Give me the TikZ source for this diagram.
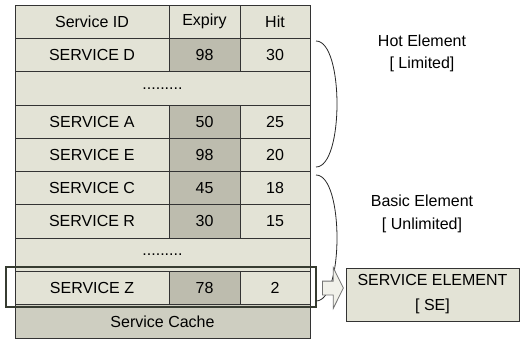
\documentclass[tikz,border=0pt]{standalone}
\usepackage{fontspec}
\setmainfont{Liberation Sans}
\usetikzlibrary{shapes.arrows, positioning}
\definecolor{CellLight}{RGB}{227,227,214}
\definecolor{CellDark}{RGB}{189,188,174}
\definecolor{CellCache}{RGB}{206,206,193}
\definecolor{FrameDark}{RGB}{55,60,49}

\begin{document}
\begin{tikzpicture}[x=1pt, y=-1pt,
    cell/.style={shape=rectangle, draw=black!80, line width=0.8pt, fill=CellLight, minimum height=33.3pt, inner sep=0pt, font=\fontsize{16}{19}\selectfont},
    idcell/.style={cell, minimum width=154pt},
    expcell/.style={cell, fill=CellDark, minimum width=71pt},
    hitcell/.style={cell, minimum width=70pt},
    widecell/.style={cell, minimum width=295pt},
    note/.style={align=center, font=\fontsize{16}{22.5}\selectfont}]
    \useasboundingbox (0,0) rectangle (521,340);

    % table head
    \node[idcell]                   (hid)  at (92,    21.65) {Service ID};
    \node[cell, minimum width=71pt] (hexp) at (204.5, 21.65) {Expiry};
    \node[hitcell]                  (hhit) at (275,   21.65) {Hit};

    % cached services
    \foreach \sid/\row/\expiry/\hits in {D/1/98/30, A/3/50/25, E/4/98/20, C/5/45/18, R/6/30/15, Z/8/78/2} {
        \node[idcell]  (id\sid)  at (92,    21.65+33.3*\row) {SERVICE \sid};
        \node[expcell] (exp\sid) at (204.5, 21.65+33.3*\row) {\expiry};
        \node[hitcell] (hit\sid) at (275,   21.65+33.3*\row) {\hits};
    }
    \node[widecell] (gapA) at (162.5, 88.25)  {.........};
    \node[widecell] (gapB) at (162.5, 254.75) {.........};
    \node[widecell, fill=CellCache] (cache) at (162.5, 321.35) {Service Cache};

    % selected entry
    \node[draw=FrameDark, line width=2pt, minimum width=310pt, minimum height=40pt, inner sep=0pt] (sel) at (161,287) {};

    % braces
    \coordinate (hotTop) at (316,41);
    \coordinate (hotBot) at (316,167);
    \coordinate (basTop) at (316,175);
    \coordinate (basBot) at (316,301);
    \draw[black!85, line width=0.8pt] (hotTop) .. controls (344,41) and (344,167) .. (hotBot);
    \draw[black!85, line width=0.8pt] (basTop) .. controls (344,175) and (344,301) .. (basBot);

    \node[note] (hot)   at (422, 53.5) {Hot Element\\{[} Limited]};
    \node[note] (basic) at (422, 214)  {Basic Element\\{[} Unlimited]};

    % service element
    \node[cell, minimum width=173pt, minimum height=53pt, align=center, font=\fontsize{16}{25}\selectfont] (se) at (432.5,294.5) {SERVICE ELEMENT\\{[} SE]};
    \node[single arrow, draw=black!55, line width=0.8pt, fill=CellLight!50, inner sep=6.5pt, minimum height=21pt,
          single arrow head extend=13.5pt, single arrow tip angle=127, anchor=tail] (arr) at (322,288) {};
\end{tikzpicture}
\end{document}
